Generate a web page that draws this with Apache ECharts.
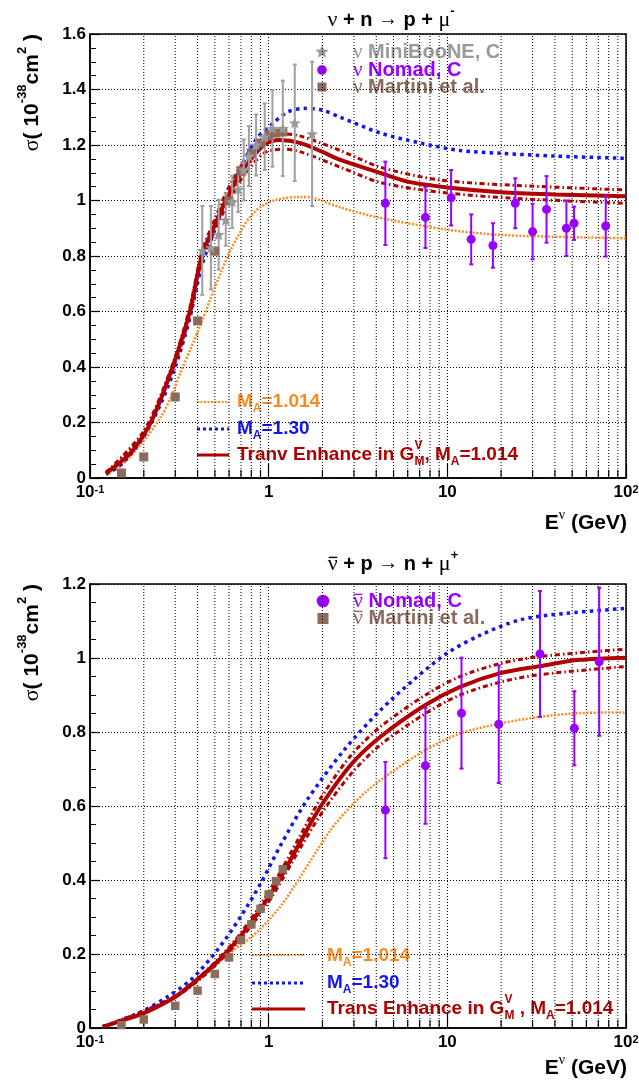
<!DOCTYPE html>
<html><head><meta charset="utf-8">
<script src="https://cdn.jsdelivr.net/npm/echarts@6/dist/echarts.min.js"></script>
<style>html,body{margin:0;padding:0;background:#fff}#c{width:639px;height:1083px}</style>
</head><body><div id="c"></div>
<script>
// ---------------- DATA ----------------
const minorX = [0.2,0.3,0.4,0.5,0.6,0.7,0.8,0.9,2,3,4,5,6,7,8,9,20,30,40,50,60,70,80,90];

// Top panel: nu + n -> p + mu-
const nuMA1014 = [[0.123,0.012],[0.15,0.045],[0.2,0.135],[0.249,0.22],[0.284,0.292],[0.322,0.382],[0.367,0.468],[0.417,0.555],[0.474,0.649],[0.539,0.739],[0.613,0.822],[0.698,0.89],[0.793,0.944],[0.902,0.977],[1.094,1.002],[1.5,1.013],[1.78,1.009],[2.52,0.975],[4.22,0.937],[10,0.895],[19.8,0.876],[50,0.868],[100,0.864]];
const nuMA130 = [[0.123,0.014],[0.15,0.05],[0.2,0.15],[0.25,0.27],[0.3,0.4],[0.36,0.57],[0.42,0.76],[0.49,0.88],[0.575,1.0],[0.7,1.12],[0.85,1.22],[1.03,1.272],[1.28,1.319],[1.6,1.332],[2.0,1.325],[2.52,1.3],[4.22,1.243],[7.07,1.207],[11.8,1.18],[20,1.17],[40,1.16],[100,1.152]];
const nuTrans = [[0.123,0.018],[0.15,0.06],[0.174,0.1],[0.219,0.2],[0.29,0.4],[0.362,0.6],[0.422,0.8],[0.49,0.9],[0.575,1.0],[0.7,1.1],[0.94,1.2],[1.15,1.218],[1.51,1.207],[2.0,1.175],[2.52,1.146],[4.22,1.099],[6.0,1.068],[10,1.047],[20,1.03],[40,1.022],[100,1.015]];
const nuTransUp = [[0.123,0.02],[0.2,0.17],[0.29,0.41],[0.362,0.615],[0.422,0.815],[0.49,0.92],[0.575,1.025],[0.7,1.125],[0.94,1.225],[1.2,1.24],[1.51,1.232],[2.52,1.18],[4.22,1.12],[9.1,1.074],[23.4,1.055],[100,1.038]];
const nuTransLo = [[0.123,0.016],[0.2,0.16],[0.29,0.39],[0.362,0.585],[0.422,0.785],[0.49,0.88],[0.575,0.975],[0.7,1.075],[0.94,1.17],[1.2,1.185],[1.51,1.175],[2.52,1.12],[4.22,1.065],[9.1,1.03],[23.4,1.008],[100,0.99]];

const mbE = [0.425,0.475,0.525,0.575,0.625,0.675,0.725,0.775,0.85,0.95,1.05,1.2,1.4,1.75];
const mbSigma = [0.82,0.83,0.877,0.93,0.995,1.04,1.11,1.16,1.2,1.23,1.26,1.26,1.28,1.24];
const mbErr = [0.16,0.15,0.126,0.093,0.094,0.081,0.11,0.108,0.11,0.12,0.138,0.172,0.21,0.26];

const nomadNuE = [4.5,7.54,10.5,13.6,18.0,24.0,30.0,35.9,46.4,51.2,77.0];
const nomadNuSigma = [0.99,0.939,1.01,0.86,0.838,0.99,0.888,0.968,0.9,0.918,0.908];
const nomadNuErr = [0.15,0.11,0.1,0.09,0.08,0.09,0.1,0.12,0.1,0.06,0.11];

const martiniNuE = [0.15,0.2,0.3,0.4,0.5,0.6,0.7,0.8,0.9,1.0,1.1,1.2];
const martiniNuSigma = [0.018,0.076,0.292,0.566,0.818,0.998,1.106,1.171,1.207,1.236,1.243,1.247];

// Bottom panel: nubar + p -> n + mu+
const anuMA1014 = [[0.118,0.003],[0.15,0.018],[0.2,0.038],[0.3,0.082],[0.42,0.135],[0.52,0.175],[0.64,0.211],[0.864,0.26],[1.17,0.33],[1.51,0.41],[2.22,0.535],[3.06,0.612],[4.22,0.67],[7.54,0.751],[11.8,0.796],[19.8,0.823],[33,0.841],[54.9,0.851],[100,0.853]];
const anuMA130 = [[0.118,0.004],[0.15,0.022],[0.2,0.047],[0.272,0.085],[0.367,0.13],[0.517,0.211],[0.697,0.301],[0.9,0.39],[1.17,0.495],[1.64,0.616],[2.63,0.75],[4.22,0.859],[6.48,0.941],[9.97,1.013],[15.3,1.062],[25.5,1.103],[46.6,1.121],[100,1.134]];
const anuTrans = [[0.118,0.003],[0.15,0.02],[0.2,0.04],[0.302,0.085],[0.417,0.139],[0.505,0.175],[0.6,0.212],[0.713,0.255],[0.828,0.296],[0.983,0.349],[1.22,0.423],[1.51,0.505],[1.95,0.598],[2.87,0.71],[4.22,0.787],[7.54,0.873],[11.8,0.922],[19.8,0.959],[33,0.978],[54.9,0.995],[100,1.001]];
const anuTransUp = [[0.118,0.004],[0.3,0.087],[0.6,0.218],[0.983,0.362],[1.51,0.522],[1.95,0.62],[2.87,0.735],[4.22,0.814],[7.54,0.9],[11.8,0.95],[19.8,0.985],[33,1.004],[100,1.024]];
const anuTransLo = [[0.118,0.002],[0.3,0.083],[0.6,0.206],[0.983,0.336],[1.51,0.488],[1.95,0.576],[2.87,0.685],[4.22,0.765],[7.54,0.85],[11.8,0.9],[19.8,0.935],[33,0.955],[100,0.977]];

const nomadAnuE = [4.5,7.54,12.0,19.4,33.0,51.4,70.8];
const nomadAnuSigma = [0.589,0.709,0.851,0.821,1.011,0.81,0.99];
const nomadAnuErr = [0.13,0.157,0.15,0.159,0.17,0.1,0.2];

const martiniAnuE = [0.15,0.2,0.3,0.4,0.5,0.6,0.7,0.8,0.9,1.0,1.1,1.2];
const martiniAnuSigma = [0.008,0.023,0.06,0.101,0.146,0.191,0.238,0.28,0.322,0.361,0.397,0.429];

// ---------------- STYLE ----------------
const SANS = '"Liberation Sans", Arial, sans-serif';
const SERIF = '"Liberation Serif", "Times New Roman", serif';
const C = {orange:'#ff8a1c', blue:'#1414f0', red:'#b00000', purple:'#9a00ff', gray:'#9a9a9a', brown:'#8b6b5b'};
const GRIDS = [{left:90, top:34, width:536, height:444}, {left:90, top:584, width:536, height:444}];
const YMAX = [1.6, 1.2];

function starPts(cx, cy, R, r){ const p=[]; for(let i=0;i<10;i++){ const a=-Math.PI/2+i*Math.PI/5; const rr=i%2?r:R; p.push([cx+rr*Math.cos(a), cy+rr*Math.sin(a)]);} return p; }
const starSymbol = 'path://M' + starPts(50,50,50,21).map(p=>p[0].toFixed(1)+','+p[1].toFixed(1)).join(' L') + ' Z';

// ---------------- TEXT HELPERS ----------------
const cv = document.createElement('canvas').getContext('2d');
function fontOf(s){ return (s.bold?'bold ':'normal ') + s.size + 'px ' + (s.family||SANS); }
function measure(t, s){ cv.font = fontOf(s); return cv.measureText(t).width; }
function textEl(x, y, t, s, color){
  return {type:'text', x:x, y:y, silent:true, style:{text:t, font:fontOf(s), fill:color, textAlign:'left', align:'left', textVerticalAlign:'middle', verticalAlign:'middle'}};
}
function run(segs, color){
  let x = 0; const ch = [];
  segs.forEach(s => {
    if (s.stack){
      let w = 0;
      s.stack.forEach(k => { ch.push(textEl(x, k.dy||0, k.t, k, k.color||color)); w = Math.max(w, measure(k.t, k)); });
      x += w;
    } else {
      const w = measure(s.t, s);
      ch.push(textEl(x, s.dy||0, s.t, s, s.color||color));
      if (s.bar){
        const yb = (s.dy||0) - s.size*0.3;
        ch.push({type:'line', silent:true, shape:{x1:x+1, y1:yb, x2:x+w-0.5, y2:yb}, style:{stroke:s.color||color, lineWidth:1.4}});
      }
      x += w;
    }
  });
  return {children: ch, width: x};
}
function group(x, y, segs, color, anchor, rot){
  const r = run(segs, color);
  let off = 0;
  if (anchor === 'center') off = -r.width/2; else if (anchor === 'right') off = -r.width;
  return {type:'group', x:x, y:y, rotation: rot||0, children:[{type:'group', x:off, y:0, children:r.children}]};
}

// ---------------- SERIES ----------------
function minorRender(ymax){
  return function(params, api){
    const v = api.value(0);
    const b = api.coord([v, 0]), t = api.coord([v, ymax]);
    return {type:'group', children:[
      {type:'line', shape:{x1:b[0], y1:b[1], x2:t[0], y2:t[1]}, style:{stroke:'#000', lineWidth:1, lineDash:[1,2]}},
      {type:'line', shape:{x1:b[0], y1:b[1], x2:b[0], y2:b[1]-8}, style:{stroke:'#000', lineWidth:1.2}}
    ]};
  };
}
function errRender(color){
  return function(params, api){
    const x = api.value(0), lo = api.value(1), hi = api.value(2);
    const a = api.coord([x, lo]), b = api.coord([x, hi]);
    const st = {stroke:color, lineWidth:2};
    return {type:'group', children:[
      {type:'line', shape:{x1:a[0], y1:a[1], x2:b[0], y2:b[1]}, style:st},
      {type:'line', shape:{x1:a[0]-2, y1:a[1], x2:a[0]+2, y2:a[1]}, style:st},
      {type:'line', shape:{x1:b[0]-2, y1:b[1], x2:b[0]+2, y2:b[1]}, style:st}
    ]};
  };
}
function curve(data, g, ls){
  return {type:'line', xAxisIndex:g, yAxisIndex:g, data:data, symbol:'none', showSymbol:false, smooth:0.3, lineStyle:ls, z:2, silent:true};
}
function errSeries(E, S, Er, g, color){
  return {type:'custom', xAxisIndex:g, yAxisIndex:g, data:E.map((e,i)=>[e, S[i]-Er[i], S[i]+Er[i]]), encode:{x:0, y:[1,2]}, renderItem:errRender(color), z:3, silent:true};
}
function pts(E, S, g, symbol, size, color){
  return {type:'scatter', xAxisIndex:g, yAxisIndex:g, data:E.map((e,i)=>[e, S[i]]), symbol:symbol, symbolSize:size, symbolKeepAspect:true, itemStyle:{color:color, opacity:1}, z:4, silent:true};
}

const series = [];
[0,1].forEach(g => series.push({type:'custom', xAxisIndex:g, yAxisIndex:g, data:minorX.map(v=>[v,0]), renderItem:minorRender(YMAX[g]), z:1, silent:true}));

const dotOrange = {color:C.orange, width:2.5, type:[2,1.6]};
const dotBlue = {color:C.blue, width:3.5, type:[3.5,4.2]};
const dashDotRed = {color:C.red, width:3, type:[5,3,1.5,3]};
const solidRed = {color:C.red, width:4, type:'solid'};

series.push(curve(nuMA1014, 0, dotOrange), curve(nuMA130, 0, dotBlue), curve(nuTransUp, 0, dashDotRed), curve(nuTransLo, 0, dashDotRed), curve(nuTrans, 0, solidRed));
series.push(curve(anuMA1014, 1, dotOrange), curve(anuMA130, 1, dotBlue), curve(anuTransUp, 1, dashDotRed), curve(anuTransLo, 1, dashDotRed), curve(anuTrans, 1, solidRed));

series.push(errSeries(mbE, mbSigma, mbErr, 0, '#a0a0a0'));
series.push(errSeries(nomadNuE, nomadNuSigma, nomadNuErr, 0, C.purple));
series.push(errSeries(nomadAnuE, nomadAnuSigma, nomadAnuErr, 1, C.purple));
series.push(pts(martiniNuE, martiniNuSigma, 0, 'rect', 9, C.brown));
series.push(pts(mbE, mbSigma, 0, starSymbol, 12, C.gray));
series.push(pts(nomadNuE, nomadNuSigma, 0, 'circle', 9, C.purple));
series.push(pts(martiniAnuE, martiniAnuSigma, 1, 'rect', 8.5, C.brown));
series.push(pts(nomadAnuE, nomadAnuSigma, 1, 'circle', 9, C.purple));

// ---------------- AXES ----------------
function xAxis(g){
  return {type:'log', logBase:10, gridIndex:g, min:0.1, max:100,
    axisLine:{show:true, onZero:false, lineStyle:{color:'#000', width:1.5}},
    axisTick:{show:true, inside:true, length:14, lineStyle:{color:'#000', width:1.2}},
    splitLine:{show:true, lineStyle:{color:'#000', width:1, type:[1,2]}},
    minorTick:{show:false}, minorSplitLine:{show:false},
    axisLabel:{show:true, margin:6, showMinLabel:true, showMaxLabel:true,
      formatter: function(v){ const p = Math.round(Math.log10(v)); if (p===0) return '{n|1}'; if (p===1) return '{n|10}'; return '{n|10}{s|' + p + '}'; },
      rich:{n:{fontSize:17, fontWeight:'bold', fontFamily:SANS, color:'#000', lineHeight:17, padding:[6,0,0,0], verticalAlign:'bottom'},
            s:{fontSize:11, fontWeight:'bold', fontFamily:SANS, color:'#000', lineHeight:11, verticalAlign:'top'}}}
  };
}
function yAxis(g){
  return {type:'value', gridIndex:g, min:0, max:YMAX[g], interval:0.2,
    axisLine:{show:true, onZero:false, lineStyle:{color:'#000', width:1.5}},
    axisTick:{show:true, inside:true, length:10, lineStyle:{color:'#000', width:1.2}},
    minorTick:{show:true, splitNumber:4, length:6, lineStyle:{color:'#000', width:1}},
    splitLine:{show:true, lineStyle:{color:'#000', width:1, type:[1,2]}},
    axisLabel:{show:true, margin:4, fontSize:17, fontWeight:'bold', fontFamily:SANS, color:'#000', showMinLabel:true, showMaxLabel:true}
  };
}

// ---------------- TEXT / LEGENDS ----------------
const B20 = {size:20, bold:true};
function seg(t, s, extra){ return Object.assign({t:t}, s, extra||{}); }
const els = [];
// titles
els.push(group(391, 20, [seg('ν',{size:22,family:SERIF}), seg(' + n ',B20), seg('→',{size:20,family:SERIF}), seg(' p + ',B20), seg('μ',{size:22,family:SERIF}), seg('-',{size:13,bold:true},{dy:-9})], '#000', 'center'));
els.push(group(393, 564, [seg('ν',{size:22,family:SERIF},{bar:true}), seg(' + p ',B20), seg('→',{size:20,family:SERIF}), seg(' n + ',B20), seg('μ',{size:22,family:SERIF}), seg('+',{size:13,bold:true},{dy:-9})], '#000', 'center'));
// y titles (rotated)
const ySegs = [seg('σ',{size:22,family:SERIF}), seg('( 10',{size:21,bold:true}), seg('-38',{size:13,bold:true},{dy:-10}), seg('cm',{size:21,bold:true}), seg('2',{size:13,bold:true},{dy:-10}), seg(' )',{size:21,bold:true})];
const yW = run(ySegs,'#000').width;
els.push(group(32, 34 + yW, ySegs, '#000', 'left', Math.PI/2));
els.push(group(32, 584 + yW, ySegs, '#000', 'left', Math.PI/2));
// x titles
const xSegs = [seg('E',{size:21,bold:true}), seg('ν',{size:14,family:SERIF},{dy:-8}), seg(' (GeV)',{size:21,bold:true})];
els.push(group(627, 523, xSegs, '#000', 'right'));
els.push(group(627, 1068, xSegs, '#000', 'right'));

// top data legend
els.push({type:'polygon', silent:true, shape:{points:starPts(322, 52, 7, 3)}, style:{fill:C.gray}});
els.push({type:'circle', silent:true, shape:{cx:322, cy:70, r:4.8}, style:{fill:C.purple}});
els.push({type:'rect', silent:true, shape:{x:317.5, y:82.5, width:9, height:9}, style:{fill:C.brown}});
els.push(group(353, 52, [seg('ν',{size:21,family:SERIF}), seg(' MiniBooNE, C',B20)], C.gray));
els.push(group(353, 70, [seg('ν',{size:21,family:SERIF}), seg(' Nomad, C',B20)], C.purple));
els.push(group(353, 87, [seg('ν',{size:21,family:SERIF}), seg(' Martini et al.',B20)], C.brown));

// top line legend
const B19 = {size:19, bold:true};
const sub = (t)=>seg(t,{size:12,bold:true},{dy:7});
els.push({type:'line', silent:true, shape:{x1:197,y1:402,x2:229,y2:402}, style:{stroke:C.orange, lineWidth:2, lineDash:[2,1.5]}});
els.push({type:'line', silent:true, shape:{x1:197,y1:429,x2:229,y2:429}, style:{stroke:C.blue, lineWidth:3, lineDash:[3,3]}});
els.push({type:'line', silent:true, shape:{x1:197,y1:455,x2:229,y2:455}, style:{stroke:C.red, lineWidth:3}});
els.push(group(237, 402, [seg('M',B19), sub('A'), seg('=1.014',B19)], C.orange));
els.push(group(237, 429, [seg('M',B19), sub('A'), seg('=1.30',B19)], C.blue));
els.push(group(237, 455, [seg('Tranv Enhance in G',B19), {stack:[seg('V',{size:12,bold:true},{dy:-9}), seg('M',{size:12,bold:true},{dy:7})]}, seg(', M',B19), sub('A'), seg('=1.014',B19)], C.red));

// bottom data legend
els.push({type:'circle', silent:true, shape:{cx:323, cy:601, r:6.3}, style:{fill:C.purple}});
els.push({type:'rect', silent:true, shape:{x:317.5, y:613, width:11, height:11}, style:{fill:C.brown}});
els.push(group(353, 601, [seg('ν',{size:22,family:SERIF},{bar:true}), seg(' Nomad, C',B20)], C.purple));
els.push(group(353, 618, [seg('ν',{size:22,family:SERIF},{bar:true}), seg(' Martini et al.',B20)], C.brown));

// bottom line legend
els.push({type:'line', silent:true, shape:{x1:252,y1:955,x2:305,y2:955}, style:{stroke:C.orange, lineWidth:2, lineDash:[2,1.5]}});
els.push({type:'line', silent:true, shape:{x1:252,y1:983,x2:305,y2:983}, style:{stroke:C.blue, lineWidth:3, lineDash:[3,3]}});
els.push({type:'line', silent:true, shape:{x1:252,y1:1009,x2:305,y2:1009}, style:{stroke:C.red, lineWidth:3}});
els.push(group(327, 956, [seg('M',B19), sub('A'), seg('=1.014',B19)], C.orange));
els.push(group(327, 983, [seg('M',B19), sub('A'), seg('=1.30',B19)], C.blue));
els.push(group(327, 1009, [seg('Trans Enhance in G',B19), {stack:[seg('V',{size:12,bold:true},{dy:-9}), seg('M',{size:12,bold:true},{dy:7})]}, seg(' , M',B19), sub('A'), seg('=1.014',B19)], C.red));

// ---------------- CHART ----------------
const chart = echarts.init(document.getElementById('c'), null, {renderer:'canvas'});
chart.setOption({
  animation:false,
  backgroundColor:'#fff',
  grid: GRIDS.map(g => Object.assign({show:true, borderColor:'#000', borderWidth:1.5, backgroundColor:'transparent', containLabel:false, outerBoundsMode:'none'}, g)),
  xAxis:[xAxis(0), xAxis(1)],
  yAxis:[yAxis(0), yAxis(1)],
  series: series,
  graphic:{elements: els}
});
</script></body></html>
